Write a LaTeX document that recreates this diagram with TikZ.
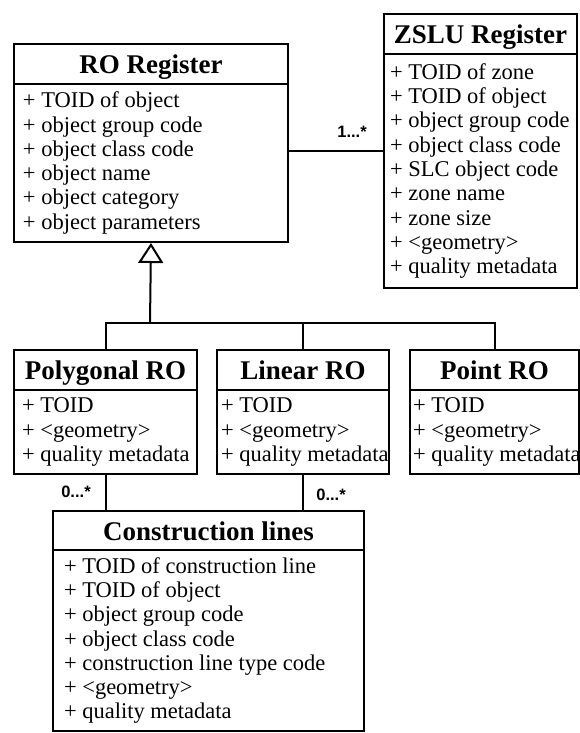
\documentclass[tikz,border=0pt]{standalone}
\usepackage{fontspec}
\setmainfont{Liberation Serif}
\newfontfamily\labfont{Liberation Sans}
\usetikzlibrary{arrows.meta}
\newcommand\clshead{\rmfamily\fontsize{27}{29}\selectfont\bfseries}
\newcommand\clsbody{\rmfamily\fontsize{22.5}{24.3}\selectfont}
\newcommand\mlab{\labfont\bfseries\fontsize{16.5}{18}\selectfont}
\begin{document}
\begin{tikzpicture}[x=1pt,y=-1pt, line width=2pt,
 hdr/.style={draw, inner sep=0pt, anchor=north west, font=\clshead, text height=25pt, text depth=6pt},
 bdy/.style={draw, inner sep=0pt, anchor=north west},
 txt/.style={inner sep=0pt, anchor=west, align=left, font=\clsbody},
 mult/.style={inner sep=0pt, font=\mlab}]
\useasboundingbox (0,0) rectangle (580,733);

% RO Register
\node[hdr, minimum width=274pt, minimum height=40pt] (roH) at (13,43) {RO Register};
\node[bdy, minimum width=274pt, minimum height=158pt] (roB) at (13,83) {};
\node[txt] (roT) at ([xshift=9pt]roB.west)
 {+ TOID of object\\+ object group code\\+ object class code\\+ object name\\+ object category\\+ object parameters};

% ZSLU Register
\node[hdr, minimum width=193pt, minimum height=40pt] (zsluH) at (383,13) {ZSLU Register};
\node[bdy, minimum width=193pt, minimum height=234pt] (zsluB) at (383,53) {};
\node[txt] (zsluT) at ([xshift=6pt]zsluB.west)
 {+ TOID of zone\\+ TOID of object\\+ object group code\\+ object class code\\+ SLC object code\\+ zone name\\+ zone size\\+ <geometry>\\+ quality metadata};

% Polygonal RO
\node[hdr, minimum width=183pt, minimum height=40pt] (polyH) at (13,349) {Polygonal RO};
\node[bdy, minimum width=183pt, minimum height=84pt] (polyB) at (13,389) {};
\node[txt] (polyT) at ([xshift=8pt]polyB.west)
 {+ TOID\\+ <geometry>\\+ quality metadata};

% Linear RO
\node[hdr, minimum width=172pt, minimum height=40pt] (linH) at (216,349) {Linear RO};
\node[bdy, minimum width=172pt, minimum height=84pt] (linB) at (216,389) {};
\node[txt] (linT) at ([xshift=4pt]linB.west)
 {+ TOID\\+ <geometry>\\+ quality metadata};

% Point RO
\node[hdr, minimum width=169pt, minimum height=40pt] (pointH) at (409,349) {Point RO};
\node[bdy, minimum width=169pt, minimum height=84pt] (pointB) at (409,389) {};
\node[txt] (pointT) at ([xshift=3pt]pointB.west)
 {+ TOID\\+ <geometry>\\+ quality metadata};

% Construction lines
\node[hdr, minimum width=311pt, minimum height=39pt] (consH) at (52,510) {Construction lines};
\node[bdy, minimum width=311pt, minimum height=181pt] (consB) at (52,549) {};
\node[txt] (consT) at ([xshift=11pt]consB.west)
 {+ TOID of construction line\\+ TOID of object\\+ object group code\\+ object class code\\+ construction line type code\\+ <geometry>\\+ quality metadata};

% association RO -- ZSLU
\coordinate (assoc) at ([yshift=12pt]roB.east);
\draw (assoc) -- (assoc -| zsluB.west);
\node[mult] (m1) at (352,132) {1...*};

% generalisation tree
\coordinate (bar) at (150,323);
\draw[-{Triangle[open,length=20pt,width=25pt]}] (bar) -- (roB.south);
\draw (polyH.north) |- (bar) -| (pointH.north);
\draw (linH.north) -- (linH.north |- bar);

% construction lines associations
\draw (polyB.south) -- (polyB.south |- consH.north);
\draw (linB.south) -- (linB.south |- consH.north);
\node[mult] (m2) at (76,492) {0...*};
\node[mult] (m3) at (331,495) {0...*};
\end{tikzpicture}
\end{document}
